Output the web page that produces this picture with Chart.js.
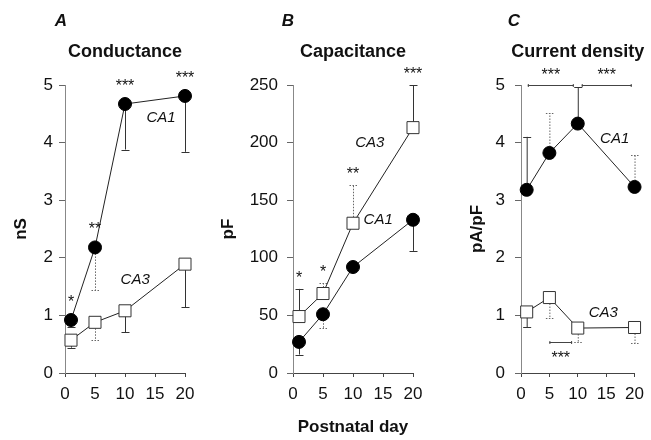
<!DOCTYPE html>
<html>
<head>
<meta charset="utf-8">
<script src="https://cdn.jsdelivr.net/npm/chart.js@4"></script>
<style>
  body { margin: 0; background: #fff; }
  #wrap { position: relative; width: 651px; height: 440px; }
  canvas { position: absolute; top: 0; }
</style>
</head>
<body>
<div id="wrap">
  <canvas id="chartA" width="210" height="440" style="left:0"></canvas>
  <canvas id="chartB" width="220" height="440" style="left:210px"></canvas>
  <canvas id="chartC" width="221" height="440" style="left:430px"></canvas>
</div>
<script>
// postnatal days
const days = [1, 5, 10, 20];

// A - conductance (nS), error bar ends
const condCA1 = [0.92, 2.18, 4.67, 4.81];
const condCA1Err = [0.80, 1.44, 3.88, 3.84];
const condCA3 = [0.57, 0.88, 1.08, 1.89];
const condCA3Err = [0.44, 0.58, 0.71, 1.14];
const condStars = ['*', '**', '***', '***'];

// B - capacitance (pF)
const capCA1 = [27, 51, 92, 133];
const capCA1Err = [16, 39, null, 106];
const capCA3 = [49, 69, 130, 213];
const capCA3Err = [73, 78, 163, 250];
const capStars = ['*', '*', '**', '***'];

// C - current density (pA/pF)
const densCA1 = [3.18, 3.82, 4.33, 3.23];
const densCA1Err = [4.10, 4.51, 4.96, 3.78];
const densCA3 = [1.06, 1.31, 0.78, 0.79];
const densCA3Err = [0.79, 0.96, 0.53, 0.52];
// significance brackets: [from day, to day, level, label]
const densBrackets = [[1.2, 9.3, 5, '***'], [10.7, 19.5, 5, '***'], [5, 9, 0.54, '***']];

const FONT = 'Arial, "Liberation Sans", sans-serif';
const INK = '#111';

function pts(ys) {
  return days.map((d, i) => ({ x: d, y: ys[i] }));
}

function ca1Set(ys) {
  return {
    data: pts(ys), borderColor: '#222', borderWidth: 1,
    pointStyle: 'circle', pointRadius: 6.5,
    pointBackgroundColor: '#000', pointBorderColor: '#000',
    clip: false
  };
}

function ca3Set(ys) {
  return {
    data: pts(ys), borderColor: '#222', borderWidth: 1,
    pointStyle: 'rect', pointRadius: 8.5,
    pointBackgroundColor: '#fff', pointBorderColor: '#333', pointBorderWidth: 1,
    clip: false
  };
}

function decoPlugin(p) {
  return {
    id: 'deco',
    beforeDatasetsDraw(chart) {
      const { ctx, scales: { x, y } } = chart;
      ctx.save();
      p.errors.forEach(e => {
        e.vals.forEach((v, i) => {
          const end = e.ends[i];
          if (end == null) return;
          const px = x.getPixelForValue(days[i]);
          const y0 = y.getPixelForValue(v);
          const y1 = y.getPixelForValue(end);
          const dotted = e.dotted.includes(i);
          ctx.strokeStyle = dotted ? '#666' : '#333';
          ctx.lineWidth = 1;
          ctx.setLineDash(dotted ? [1.5, 1.5] : []);
          ctx.beginPath();
          ctx.moveTo(px + 0.5, y0);
          ctx.lineTo(px + 0.5, y1);
          ctx.moveTo(px - 3.5, Math.round(y1) + 0.5);
          ctx.lineTo(px + 4.5, Math.round(y1) + 0.5);
          ctx.stroke();
        });
      });
      ctx.restore();
    },
    afterDraw(chart) {
      const { ctx, chartArea, scales: { x, y } } = chart;
      ctx.save();
      ctx.fillStyle = INK;
      ctx.textAlign = 'center';
      ctx.textBaseline = 'middle';
      ctx.font = 'italic bold 17px ' + FONT;
      ctx.fillText(p.letter, chartArea.left + p.letterDx, 21);
      ctx.font = 'bold 18px ' + FONT;
      ctx.fillText(p.title, (chartArea.left + chartArea.right) / 2, 52);

      ctx.font = 'italic 15px ' + FONT;
      p.labels.forEach(l => {
        ctx.fillText(l[0], x.getPixelForValue(l[1]), y.getPixelForValue(l[2]));
      });

      ctx.textBaseline = 'alphabetic';
      ctx.font = '16px ' + FONT;
      if (p.stars) {
        p.stars.forEach((s, i) => {
          let top = -Infinity;
          p.errors.forEach(e => {
            top = Math.max(top, e.vals[i], e.ends[i] == null ? -Infinity : e.ends[i]);
          });
          ctx.fillText(s, x.getPixelForValue(days[i]), y.getPixelForValue(top) - p.starGap);
        });
      }

      (p.brackets || []).forEach(b => {
        const x0 = x.getPixelForValue(b[0]);
        const x1 = x.getPixelForValue(b[1]);
        const yy = Math.round(y.getPixelForValue(b[2])) + 0.5;
        ctx.strokeStyle = '#444';
        ctx.lineWidth = 1;
        ctx.beginPath();
        ctx.moveTo(x0, yy); ctx.lineTo(x1, yy);
        ctx.moveTo(x0 + 0.5, yy - 1.5); ctx.lineTo(x0 + 0.5, yy + 1.5);
        ctx.moveTo(x1 - 0.5, yy - 1.5); ctx.lineTo(x1 - 0.5, yy + 1.5);
        ctx.stroke();
        const below = b[2] < 2;
        ctx.fillText(b[3], (x0 + x1) / 2, below ? yy + 20 : yy - 6);
      });
      ctx.restore();
    }
  };
}

function makePanel(id, p) {
  return new Chart(document.getElementById(id), {
    type: 'line',
    data: { datasets: p.datasets },
    options: {
      responsive: false,
      animation: false,
      layout: { padding: { top: 85, right: p.padRight, left: 0, bottom: 0 } },
      plugins: { legend: { display: false }, tooltip: { enabled: false } },
      scales: {
        x: {
          type: 'linear', min: 0, max: 20,
          ticks: { stepSize: 5, color: INK, font: { family: FONT, size: 17 }, padding: 7 },
          grid: { drawOnChartArea: false, tickLength: 4, color: '#444' },
          border: { color: '#444' },
          title: {
            display: !!p.xTitle, text: p.xTitle, color: INK,
            font: { family: FONT, size: 17, weight: 'bold' }, padding: { top: 0, bottom: 2 }
          },
          afterFit: s => { s.height = 67; }
        },
        y: {
          min: 0, max: p.yMax,
          ticks: { stepSize: p.yStep, color: INK, font: { family: FONT, size: 17 }, padding: p.tickPad },
          grid: { drawOnChartArea: false, tickLength: 6, color: '#666' },
          border: { color: '#888' },
          title: {
            display: true, text: p.yTitle, color: INK,
            font: { family: FONT, size: 17, weight: 'bold' }, padding: { top: p.titlePad, bottom: 0 }
          },
          afterFit: s => { s.width = p.yWidth; }
        }
      }
    },
    plugins: [decoPlugin(p)]
  });
}

makePanel('chartA', {
  letter: 'A', letterDx: -4, title: 'Conductance', yTitle: 'nS',
  yMax: 5, yStep: 1, yWidth: 65, padRight: 25, tickPad: 6, titlePad: 11,
  datasets: [ca1Set(condCA1), ca3Set(condCA3)],
  errors: [
    { vals: condCA1, ends: condCA1Err, dotted: [1] },
    { vals: condCA3, ends: condCA3Err, dotted: [1] }
  ],
  stars: condStars, starGap: 13,
  labels: [['CA1', 16, 4.43], ['CA3', 11.7, 1.61]]
});

makePanel('chartB', {
  letter: 'B', letterDx: -5, title: 'Capacitance', yTitle: 'pF', xTitle: 'Postnatal day',
  yMax: 250, yStep: 50, yWidth: 83, padRight: 17, tickPad: 9, titlePad: 8,
  datasets: [ca1Set(capCA1), ca3Set(capCA3)],
  errors: [
    { vals: capCA1, ends: capCA1Err, dotted: [1] },
    { vals: capCA3, ends: capCA3Err, dotted: [1, 2] }
  ],
  stars: capStars, starGap: 6,
  labels: [['CA3', 12.8, 200], ['CA1', 14.2, 133]]
});

makePanel('chartC', {
  letter: 'C', letterDx: -7, title: 'Current density', yTitle: 'pA/pF',
  yMax: 5, yStep: 1, yWidth: 91, padRight: 10, tickPad: 10, titlePad: 37,
  datasets: [ca1Set(densCA1), ca3Set(densCA3)],
  errors: [
    { vals: densCA1, ends: densCA1Err, dotted: [1, 3] },
    { vals: densCA3, ends: densCA3Err, dotted: [1, 2, 3] }
  ],
  brackets: densBrackets,
  labels: [['CA1', 16.5, 4.06], ['CA3', 14.5, 1.04]]
});
</script>
</body>
</html>
